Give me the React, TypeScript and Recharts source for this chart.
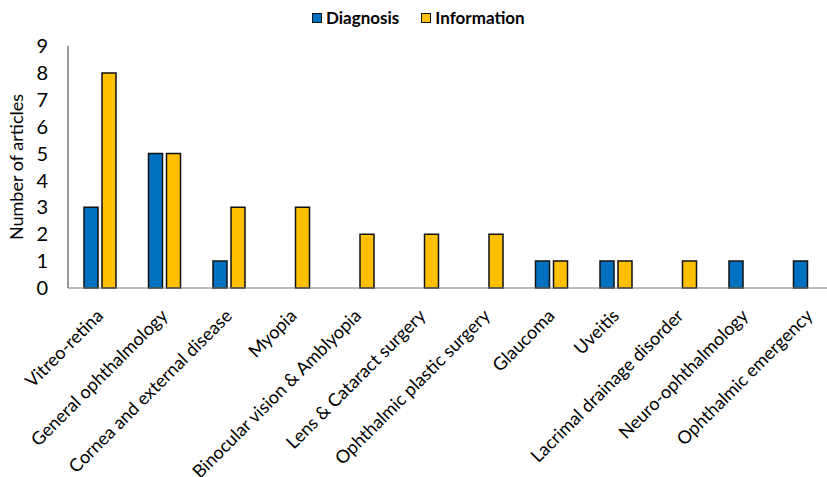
import React from "react";
import { BarChart, Bar, XAxis, YAxis, Legend } from "recharts";

// Subspecialty categories and article counts per study purpose
const categories = [
  "Vitreo-retina",
  "General ophthalmology",
  "Cornea and external disease",
  "Myopia",
  "Binocular vision & Amblyopia",
  "Lens & Cataract surgery",
  "Ophthalmic plastic surgery",
  "Glaucoma",
  "Uveitis",
  "Lacrimal drainage disorder",
  "Neuro-ophthalmology",
  "Ophthalmic emergency",
];
const diagnosis = [3, 5, 1, 0, 0, 0, 0, 1, 1, 0, 1, 1];
const information = [8, 5, 3, 3, 2, 2, 2, 1, 1, 1, 0, 0];
const yTicks = [0, 1, 2, 3, 4, 5, 6, 7, 8, 9];

const BLUE = "#0070C0";
const GOLD = "#FFC000";
const FONT = "Lato, 'Open Sans', sans-serif";

const data = categories.map((name, i) => ({
  name,
  Diagnosis: diagnosis[i],
  Information: information[i],
}));

const CategoryTick = (props: any) => {
  const { x, y, payload } = props;
  const ax = x + 4;
  const ay = y + 29;
  return (
    <text
      x={ax}
      y={ay}
      transform={`rotate(-45 ${ax} ${ay})`}
      textAnchor="end"
      fontSize={18}
      fontFamily={FONT}
      fill="#000"
    >
      {payload.value}
    </text>
  );
};

const LegendBox = () => {
  const items = [
    { label: "Diagnosis", color: BLUE },
    { label: "Information", color: GOLD },
  ];
  return (
    <div style={{ display: "flex", alignItems: "center", fontFamily: FONT }}>
      {items.map((it, i) => (
        <div
          key={it.label}
          style={{ display: "flex", alignItems: "center", marginRight: i === 0 ? 22 : 0 }}
        >
          <span
            style={{
              display: "inline-block",
              width: 8,
              height: 8,
              background: it.color,
              border: "1.5px solid #111",
              marginRight: 4,
            }}
          />
          <span style={{ fontWeight: 700, fontSize: 17, color: "#000", lineHeight: "22px" }}>
            {it.label}
          </span>
        </div>
      ))}
    </div>
  );
};

export default function App() {
  return (
    <div
      style={{
        position: "fixed",
        left: 0,
        top: 0,
        width: 827,
        height: 477,
        overflow: "hidden",
        background: "#fff",
      }}
    >
      <BarChart
        width={845}
        height={477}
        data={data}
        margin={{ top: 46, right: 3, left: 0, bottom: 0 }}
        barSize={14}
        barGap={4}
      >
        <Legend
          layout="horizontal"
          verticalAlign="middle"
          align="center"
          content={<LegendBox />}
          wrapperStyle={{ left: 312, top: 7, width: "auto" }}
        />
        <XAxis
          dataKey="name"
          interval={0}
          height={189}
          tickLine={false}
          tickSize={0}
          tickMargin={0}
          axisLine={{ stroke: "#7a7a7a", strokeWidth: 1.2 }}
          tick={<CategoryTick />}
        />
        <YAxis
          width={68}
          domain={[0, 9]}
          ticks={yTicks}
          interval={0}
          tickLine={false}
          tickSize={0}
          tickMargin={20}
          axisLine={{ stroke: "#555", strokeWidth: 1.2 }}
          tick={{ fontSize: 20, fontFamily: FONT, fill: "#000" }}
          label={{
            value: "Number of articles",
            angle: -90,
            position: "insideLeft",
            offset: 17,
            style: { fontSize: 18, fontFamily: FONT, fill: "#000", textAnchor: "middle" },
          }}
        />
        <Bar dataKey="Diagnosis" fill={BLUE} stroke="#111" strokeWidth={1.5} isAnimationActive={false} />
        <Bar dataKey="Information" fill={GOLD} stroke="#111" strokeWidth={1.5} isAnimationActive={false} />
      </BarChart>
    </div>
  );
}
